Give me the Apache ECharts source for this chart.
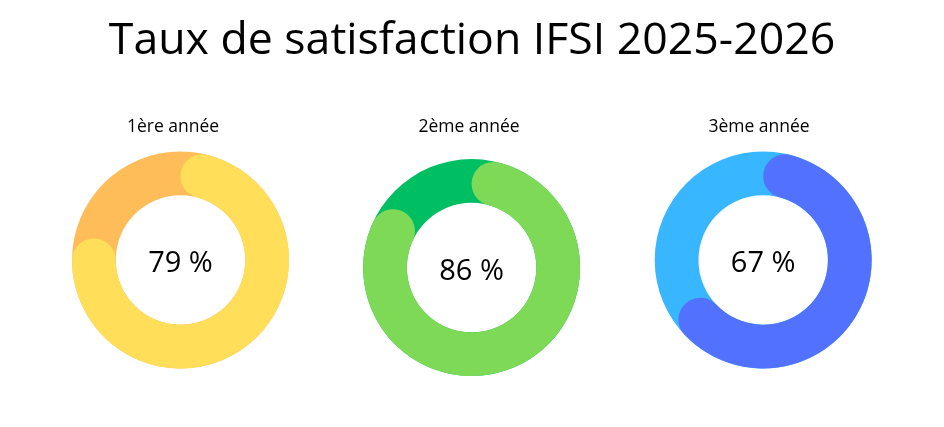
<!DOCTYPE html>
<html>
<head>
<meta charset="utf-8">
<script src="https://cdn.jsdelivr.net/npm/echarts@6/dist/echarts.min.js"></script>
<style>
  html, body { margin: 0; padding: 0; background: #fff; }
  #chart { width: 944px; height: 427px; }
</style>
</head>
<body>
<div id="chart"></div>
<script>
// donnees
var years = ['1ère année', '2ème année', '3ème année'];
var rates = [79, 86, 67];

// couleurs (arc / fond)
var arcColors = ['#FFDE59', '#7ED957', '#5271FF'];
var trackColors = ['#FFBD59', '#00BF63', '#38B6FF'];

var centers = [[180.5, 260], [471.6, 267.6], [763.2, 260]];
var labelX = [168, 464, 754];
var ring = [64.75, 108.5];

var chart = echarts.init(document.getElementById('chart'), null, {renderer: 'canvas'});

var titles = [{
    text: 'Taux de satisfaction IFSI 2025-2026',
    left: 'center',
    top: 14,
    textStyle: {fontFamily: 'Open Sans', fontWeight: 'normal', fontSize: 44.6, color: '#000'}
}];
var series = [];

for (var i = 0; i < rates.length; i++) {
    titles.push({
        text: years[i],
        left: labelX[i],
        top: 113,
        textAlign: 'center',
        textStyle: {fontFamily: 'Open Sans', fontWeight: 'normal', fontSize: 17.5, color: '#000'}
    });
    // anneau de fond
    series.push({
        type: 'pie',
        silent: true,
        animation: false,
        center: centers[i],
        radius: ring,
        label: {show: false},
        labelLine: {show: false},
        data: [{value: 100, itemStyle: {color: trackColors[i]}}]
    });
    // arc de progression
    series.push({
        type: 'pie',
        silent: true,
        animation: false,
        center: centers[i],
        radius: ring,
        startAngle: 90,
        clockwise: true,
        labelLine: {show: false},
        data: [{
            value: rates[i],
            itemStyle: {color: arcColors[i], borderRadius: 22},
            label: {
                show: true,
                position: 'center',
                formatter: '{c} %',
                fontFamily: 'Open Sans',
                fontSize: 29,
                offset: [0, 4],
                color: '#000'
            }
        }, {
            value: 100 - rates[i],
            itemStyle: {color: 'transparent'},
            label: {show: false}
        }]
    });
}

chart.setOption({
    backgroundColor: '#fff',
    title: titles,
    series: series
});
</script>
</body>
</html>
